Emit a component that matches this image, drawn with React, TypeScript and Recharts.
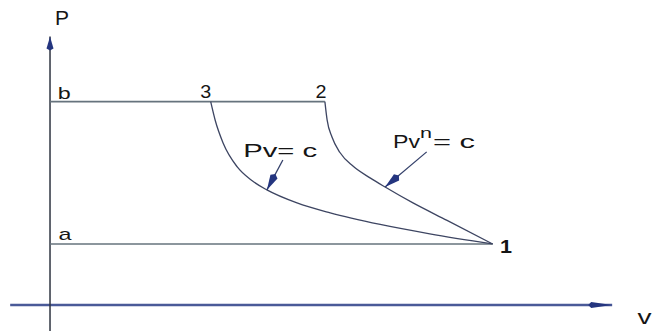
import { ComposedChart, Line, Scatter, XAxis, YAxis } from "recharts";

// domain of the diagram (v across, P up)
const V_DOMAIN = [-1.13, 13.6];
const P_DOMAIN = [-1.28, 15.0];

// state points of the cycle
const pointsTop = [
  { v: 0, P: 10 },
  { v: 6.21, P: 10 },
];
const pointsBottom = [
  { v: 0, P: 3 },
  { v: 10, P: 3 },
];

// Pv = c (3 -> 1)
const isothermal = [
  { v: 3.63, P: 10 },
  { v: 3.73, P: 9.1 },
  { v: 3.91, P: 7.97 },
  { v: 4.23, P: 6.79 },
  { v: 4.56, P: 6.12 },
  { v: 4.9, P: 5.66 },
  { v: 5.58, P: 5.02 },
  { v: 6.33, P: 4.53 },
  { v: 7.46, P: 3.96 },
  { v: 8.58, P: 3.5 },
  { v: 10, P: 3 },
];

// Pv^n = c (2 -> 1)
const polytropic = [
  { v: 6.21, P: 10 },
  { v: 6.26, P: 9.1 },
  { v: 6.37, P: 8.26 },
  { v: 6.55, P: 7.5 },
  { v: 6.85, P: 6.82 },
  { v: 7.23, P: 6.25 },
  { v: 7.57, P: 5.8 },
  { v: 8.2, P: 5.02 },
  { v: 8.97, P: 4.16 },
  { v: 10, P: 3 },
];

// axes drawn as lines
const axisP = [
  { v: 0, P: -1.28 },
  { v: 0, P: 13.2 },
];
const axisV = [
  { v: -0.9, P: 0 },
  { v: 12.7, P: 0 },
];

// leader arrows for the curve labels
const arrowIso = [
  { v: 5.26, P: 7.13 },
  { v: 4.9, P: 5.66 },
];
const arrowPoly = [
  { v: 8.51, P: 7.53 },
  { v: 7.57, P: 5.8 },
];

// text labels
const labels = [
  { v: 0.27, P: 13.75, text: "P", size: 21, width: 14, bold: false },
  { v: 13.43, P: -0.93, text: "v", size: 20, width: 14, bold: false },
  { v: 0.32, P: 10.13, text: "b", size: 17, width: 13, bold: false },
  { v: 0.34, P: 3.2, text: "a", size: 17, width: 13, bold: false },
  { v: 3.52, P: 10.18, text: "3", size: 18, width: 11, bold: false },
  { v: 6.12, P: 10.18, text: "2", size: 18, width: 11, bold: false },
  { v: 10.3, P: 2.56, text: "1", size: 19, width: 12, bold: true },
  { v: 5.2, P: 7.28, text: "Pv= c", size: 18, width: 74, bold: false },
];
const polyLabel = [{ v: 7.75, P: 7.72, text: "Pv", sup: "n", rest: "= c" }];

const FONT = "'Liberation Sans', Arial, sans-serif";

const LabelShape = (props: any) => {
  const d = props.payload;
  return (
    <text
      x={props.cx}
      y={props.cy}
      textAnchor="middle"
      fontFamily={FONT}
      fontSize={d.size}
      fontWeight={d.bold ? 700 : 400}
      fill="#151515"
      textLength={d.width}
      lengthAdjust="spacingAndGlyphs"
    >
      {d.text}
    </text>
  );
};

const PolyLabelShape = (props: any) => {
  const d = props.payload;
  return (
    <g fontFamily={FONT} fill="#151515">
      <text x={props.cx} y={props.cy} fontSize={18} textLength={27} lengthAdjust="spacingAndGlyphs">
        {d.text}
      </text>
      <text x={props.cx + 27} y={props.cy - 10} fontSize={14} textLength={12} lengthAdjust="spacingAndGlyphs">
        {d.sup}
      </text>
      <text x={props.cx + 40} y={props.cy} fontSize={18} textLength={42} lengthAdjust="spacingAndGlyphs">
        {d.rest}
      </text>
    </g>
  );
};

export default function App() {
  return (
    <div style={{ position: "absolute", left: 0, top: 0, background: "#fff" }}>
      <svg width={0} height={0} style={{ position: "absolute" }}>
        <defs>
          <marker id="axisHeadV" markerUnits="userSpaceOnUse" viewBox="0 0 24 8" markerWidth={24} markerHeight={8} refX={24} refY={4} orient="auto">
            <path d="M0,4 L3,1 L24,4 L3,7 z" fill="#24357f" />
          </marker>
          <marker id="axisHeadP" markerUnits="userSpaceOnUse" viewBox="0 0 14 8" markerWidth={14} markerHeight={8} refX={14} refY={4} orient="auto">
            <path d="M0,4 L2,0.5 L14,4 L2,7.5 z" fill="#24357f" />
          </marker>
          <marker id="leaderHead" markerUnits="userSpaceOnUse" viewBox="0 0 18 9" markerWidth={18} markerHeight={9} refX={18} refY={4.5} orient="auto">
            <path d="M0,4.5 L3,0.5 L18,4.5 L3,8.5 z" fill="#24357f" />
          </marker>
        </defs>
      </svg>
      <ComposedChart width={652} height={331} margin={{ top: 0, right: 0, bottom: 0, left: 0 }}>
        <XAxis type="number" dataKey="v" domain={V_DOMAIN} hide />
        <YAxis type="number" dataKey="P" domain={P_DOMAIN} hide />

        <Line data={axisV} dataKey="P" type="linear" stroke="#4a5a98" strokeWidth={2.5} dot={false} activeDot={false} isAnimationActive={false} markerEnd="url(#axisHeadV)" />
        <Line data={axisP} dataKey="P" type="linear" stroke="#2e3440" strokeWidth={1.5} dot={false} activeDot={false} isAnimationActive={false} markerEnd="url(#axisHeadP)" />

        <Line data={pointsTop} dataKey="P" type="linear" stroke="#66737d" strokeWidth={1.6} dot={false} activeDot={false} isAnimationActive={false} />
        <Line data={pointsBottom} dataKey="P" type="linear" stroke="#66737d" strokeWidth={1.4} dot={false} activeDot={false} isAnimationActive={false} />

        <Line data={isothermal} dataKey="P" type="monotone" stroke="#3d4562" strokeWidth={1.3} dot={false} activeDot={false} isAnimationActive={false} />
        <Line data={polytropic} dataKey="P" type="monotone" stroke="#3d4562" strokeWidth={1.3} dot={false} activeDot={false} isAnimationActive={false} />

        <Line data={arrowIso} dataKey="P" type="linear" stroke="#34406a" strokeWidth={1.3} dot={false} activeDot={false} isAnimationActive={false} markerEnd="url(#leaderHead)" />
        <Line data={arrowPoly} dataKey="P" type="linear" stroke="#34406a" strokeWidth={1.3} dot={false} activeDot={false} isAnimationActive={false} markerEnd="url(#leaderHead)" />

        <Scatter data={labels} dataKey="P" shape={LabelShape} isAnimationActive={false} />
        <Scatter data={polyLabel} dataKey="P" shape={PolyLabelShape} isAnimationActive={false} />
      </ComposedChart>
    </div>
  );
}
